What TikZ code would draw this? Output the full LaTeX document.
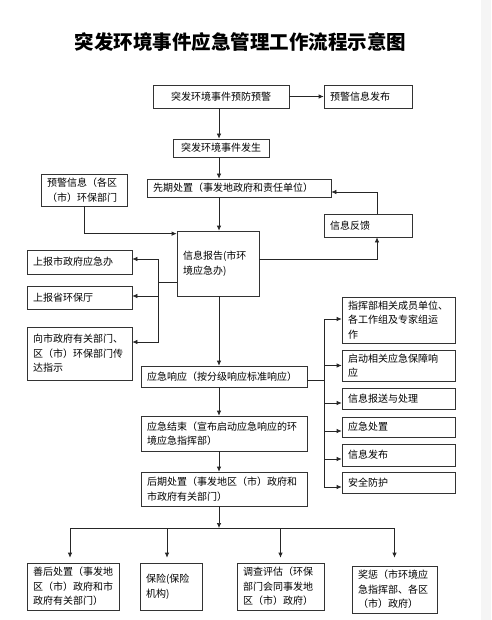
\documentclass[tikz,border=0pt]{standalone}
\usepackage{fontspec}
\newfontfamily\cjk{Noto Sans CJK SC}
\usetikzlibrary{arrows.meta}
\begin{document}
\begin{tikzpicture}[x=1pt,y=-1pt,
  bx/.style={draw=black!80, line width=0.7pt, inner xsep=6pt, inner ysep=2pt,
    font=\cjk\fontsize{10}{14.5}\selectfont, align=left},
  ln/.style={draw=black!85, line width=0.7pt},
  arr/.style={ln, -{Latex[length=5pt,width=4.5pt]}}]
\path[use as bounding box] (0,0) rectangle (491,620);
\fill[white] (0,0) rectangle (491,620);
\fill[gray!8] (481,0) rectangle (491,620);

\node (title) at (240.5,42) {\cjk\bfseries\fontsize{19.5}{22}\selectfont 突发环境事件应急管理工作流程示意图};

\node[bx, align=center, minimum width=136pt, text width=124pt, minimum height=23pt] (b1) at (221,96.5) {突发环境事件预防预警};
\node[bx, minimum width=88pt, text width=76pt, minimum height=23pt] (b2) at (368,96.5) {预警信息发布};
\node[bx, align=center, minimum width=96pt, text width=84pt, minimum height=18pt] (b3) at (221,148) {突发环境事件发生};
\node[bx, minimum width=86pt, text width=74pt, minimum height=32pt] (b4) at (84,190) {预警信息（各区\\（市）环保部门};
\node[bx, minimum width=184pt, text width=172pt, minimum height=18pt] (b5) at (239,188) {先期处置（事发地政府和责任单位）};
\node[bx, minimum width=88pt, text width=76pt, minimum height=23pt] (b6) at (368,225.5) {信息反馈};
\node[bx, minimum width=82pt, text width=70pt, minimum height=65pt] (b7) at (218,263.5) {信息报告(市环\\境应急办)};
\node[bx, minimum width=105pt, text width=93pt, minimum height=24pt] (b8) at (79.5,262) {上报市政府应急办};
\node[bx, minimum width=105pt, text width=93pt, minimum height=23pt] (b9) at (79.5,297.5) {上报省环保厅};
\node[bx, minimum width=105pt, text width=93pt, minimum height=53pt] (b10) at (79.5,353.5) {向市政府有关部门、\\区（市）环保部门传\\达指示};
\node[bx, minimum width=166pt, text width=154pt, minimum height=21pt] (b11) at (224,376.5) {应急响应（按分级响应标准响应）};
\node[bx, minimum width=166pt, text width=154pt, minimum height=35pt] (b12) at (224,433.5) {应急结束（宣布启动应急响应的环\\境应急指挥部）};
\node[bx, minimum width=166pt, text width=154pt, minimum height=34pt] (b13) at (224,489) {后期处置（事发地区（市）政府和\\市政府有关部门）};

\node[bx, minimum width=113pt, text width=101pt, minimum height=46pt] (r1) at (398.5,320) {指挥部相关成员单位、\\各工作组及专家组运\\作};
\node[bx, minimum width=113pt, text width=101pt, minimum height=31pt] (r2) at (398.5,365.5) {启动相关应急保障响\\应};
\node[bx, minimum width=113pt, text width=101pt, minimum height=21pt] (r3) at (398.5,398.5) {信息报送与处理};
\node[bx, minimum width=113pt, text width=101pt, minimum height=20pt] (r4) at (398.5,427) {应急处置};
\node[bx, minimum width=113pt, text width=101pt, minimum height=22pt] (r5) at (398.5,455) {信息发布};
\node[bx, minimum width=113pt, text width=101pt, minimum height=21pt] (r6) at (398.5,482.5) {安全防护};

\node[bx, minimum width=92pt, text width=80pt, minimum height=47pt] (c1) at (73,586.5) {善后处置（事发地\\区（市）政府和市\\政府有关部门）};
\node[bx, minimum width=62pt, text width=50pt, minimum height=47pt] (c2) at (171,586.5) {保险(保险\\机构)};
\node[bx, minimum width=87pt, text width=75pt, minimum height=47pt] (c3) at (280.5,586.5) {调查评估（环保\\部门会同事发地\\区（市）政府）};
\node[bx, minimum width=85pt, text width=73pt, minimum height=47pt] (c4) at (394.5,589.5) {奖惩（市环境应\\急指挥部、各区\\（市）政府）};

% spine
\coordinate (sp) at (219,0);
\draw[arr] (b1.east) -- (b2.west);
\draw[arr] (b1.south -| sp) -- (b3.north -| sp);
\draw[arr] (b3.south -| sp) -- (b5.north -| sp);
\draw[arr] (b5.south -| sp) -- (b7.north -| sp);
\draw[arr] (b7.south -| sp) -- (b11.north -| sp);
\draw[arr] (b11.south -| sp) -- (b12.north -| sp);
\draw[arr] (b12.south -| sp) -- (b13.north -| sp);

% feedback loop
\draw[arr] ([xshift=9pt]b6.north) |- ([yshift=-4pt]b5.east);
\draw[arr] ([yshift=4.5pt]b7.east) -| ([xshift=9pt]b6.south);
\draw[arr] (b4.south) |- ([yshift=-3pt]b7.north west);

% left branch
\coordinate (lb) at (158,282);
\draw[ln] (b7.west |- lb) -- (lb);
\draw[arr] (lb) |- ([yshift=3pt]b8.east);
\draw[arr] (lb) |- ([yshift=1.5pt]b9.east);
\draw[arr] (lb) |- ([yshift=11.5pt]b10.east);

% right branch
\coordinate (rb) at (324,380);
\draw[ln] (b11.east |- rb) -- (rb);
\draw[arr] (rb) |- ([yshift=1pt]r1.west);
\draw[arr] (rb) |- (r2.west);
\draw[arr] (rb) |- ([yshift=-4.5pt]r3.west);
\draw[arr] (rb) |- ([yshift=-4pt]r4.west);
\draw[arr] (rb) |- ([yshift=-4pt]r5.west);
\draw[arr] (rb) |- ([yshift=-4.5pt]r6.west);

% bottom branch
\coordinate (jn) at (219,528);
\draw[arr] (b13.south -| sp) -- (jn);
\coordinate (c1t) at ([xshift=-3pt]c1.north);
\coordinate (c2t) at ([xshift=-4pt]c2.north);
\draw[ln] (c1t |- jn) -- (c4.north |- jn);
\draw[arr, shorten >=5pt] (c1t |- jn) -- (c1t);
\draw[arr, shorten >=5pt] (c2t |- jn) -- (c2t);
\draw[arr, shorten >=5pt] (c3.north |- jn) -- (c3.north);
\draw[arr, shorten >=8pt] (c4.north |- jn) -- (c4.north);
\end{tikzpicture}
\end{document}
